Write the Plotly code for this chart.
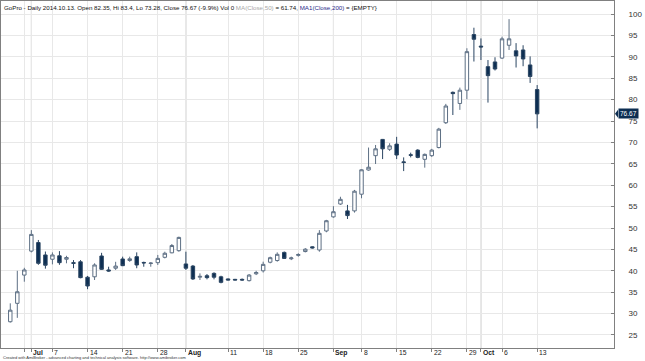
import plotly.graph_objects as go

# ---------------- data ----------------
dates = ["06-26", "06-27", "06-30",
         "07-01", "07-02", "07-03", "07-07", "07-08", "07-09", "07-10", "07-11",
         "07-14", "07-15", "07-16", "07-17", "07-18", "07-21", "07-22", "07-23",
         "07-24", "07-25", "07-28", "07-29", "07-30", "07-31",
         "08-01", "08-04", "08-05", "08-06", "08-07", "08-08", "08-11", "08-12",
         "08-13", "08-14", "08-15", "08-18", "08-19", "08-20", "08-21", "08-22",
         "08-25", "08-26", "08-27", "08-28", "08-29",
         "09-02", "09-03", "09-04", "09-05", "09-08", "09-09", "09-10", "09-11",
         "09-12", "09-15", "09-16", "09-17", "09-18", "09-19", "09-22", "09-23",
         "09-24", "09-25", "09-26", "09-29", "09-30",
         "10-01", "10-02", "10-03", "10-06", "10-07", "10-08", "10-09", "10-10",
         "10-13"]

open_ = [28.1, 32.4, 39.0,
         44.6, 46.6, 43.7, 42.7, 43.5, 42.7, 41.9, 42.1,
         38.5, 38.6, 43.46, 40.2, 40.6, 42.76, 42.4, 43.3,
         41.95, 41.7, 41.9, 43.15, 44.2, 44.7,
         41.6, 41.1, 38.5, 38.85, 39.4, 38.6, 38.1, 38.0,
         38.0, 37.7, 39.3, 40.0, 42.0, 42.4, 44.3, 42.8,
         43.6, 44.5, 45.6, 44.86, 49.3,
         52.6, 55.6, 54.0, 54.0, 57.9, 63.55, 66.9, 70.7,
         68.4, 69.6, 65.45, 67.1, 68.2, 66.05, 66.9, 68.8,
         74.6, 81.7, 79.1, 82.2, 95.2,
         92.5, 87.7, 88.8, 89.7, 92.7, 91.4, 91.6, 88.1,
         82.35]

high = [32.4, 40.0, 40.7,
        49.5, 47.2, 44.5, 44.3, 44.6, 43.5, 42.5, 42.5,
        38.8, 41.75, 44.2, 40.95, 42.1, 43.3, 43.3, 44.3,
        42.13, 42.0, 43.7, 44.46, 46.26, 47.97,
        44.46, 41.36, 39.4, 39.25, 39.65, 38.85, 38.2, 38.1,
        38.2, 39.25, 40.0, 42.13, 43.3, 44.3, 44.5, 43.3,
        44.1, 45.3, 45.7, 49.5, 51.9,
        55.1, 57.3, 55.4, 58.9, 63.7, 68.8, 69.4, 70.8,
        69.8, 71.3, 66.5, 67.6, 68.4, 67.4, 68.5, 73.4,
        79.0, 81.9, 82.8, 92.0, 96.8,
        94.3, 89.25, 89.9, 94.7, 98.8, 93.2, 92.7, 90.1,
        83.4]

low = [27.9, 29.0, 37.45,
       44.3, 41.4, 40.5, 41.5, 41.4, 41.75, 40.6, 38.25,
       35.7, 37.85, 40.2, 39.8, 40.2, 41.1, 42.1, 40.6,
       40.95, 40.95, 41.36, 42.9, 44.1, 44.46,
       40.2, 37.85, 37.85, 38.0, 38.0, 37.07, 37.8, 37.8,
       37.7, 37.5, 39.0, 39.6, 41.75, 42.13, 42.76, 42.5,
       43.3, 44.3, 45.2, 44.46, 49.0,
       52.4, 55.4, 52.1, 53.6, 56.95, 63.4, 64.95, 66.1,
       68.0, 66.1, 63.3, 66.5, 66.3, 64.1, 66.6, 68.6,
       74.3, 76.4, 77.6, 80.1, 88.9,
       89.25, 79.3, 86.8, 89.5, 91.6, 87.5, 87.8, 83.9,
       73.28]

close = [30.8, 35.1, 40.2,
         48.5, 41.75, 41.3, 43.7, 41.9, 43.1, 41.75, 38.4,
         36.45, 41.36, 40.35, 39.95, 41.1, 41.2, 42.8, 41.36,
         41.85, 41.8, 42.9, 44.1, 45.9, 47.8,
         40.6, 38.1, 38.7, 38.4, 38.5, 37.3, 37.85, 37.85,
         37.85, 39.0, 39.6, 41.5, 43.06, 43.85, 42.9, 43.0,
         43.8, 45.05, 45.35, 48.76, 51.7,
         53.8, 56.7, 52.9, 58.6, 63.6, 64.2, 68.5, 68.5,
         69.2, 67.05, 65.3, 67.0, 66.5, 67.2, 68.2, 73.1,
         78.5, 81.4, 82.2, 91.2, 94.1,
         92.3, 85.6, 87.15, 94.2, 94.2, 90.2, 89.5, 85.4,
         76.67]

# x-axis ticks
tick_dates = ["06-30", "07-01", "07-07", "07-14", "07-21", "07-28",
              "08-01", "08-11", "08-18", "08-25",
              "09-02", "09-08", "09-15", "09-22", "09-29",
              "10-01", "10-06", "10-13"]
tick_labels = ["", "Jul", "7", "14", "21", "28",
               "Aug", "11", "18", "25",
               "Sep", "8", "15", "22", "29",
               "Oct", "6", "13"]
month_ticks = ["Jul", "Aug", "Sep", "Oct"]

y_ticks = list(range(25, 101, 5))

title_text = ("GoPro - Daily 2014.10.13. Open 82.35, Hi 83.4, Lo 73.28, Close 76.67 (-9.9%) Vol 0 "
              "<span style='color:#a8a8a8'>MA(Close,50)</span> = 61.74, "
              "<span style='color:#2a2a8a'>MA1(Close,200)</span> = {EMPTY}")
credit_text = ("Created with AmiBroker - advanced charting and technical analysis software. "
               "http://www.amibroker.com")
last_label = "76.67"

# ---------------- figure ----------------
xi = list(range(len(dates)))
pos = {d: i for i, d in enumerate(dates)}
tick_x = [pos[d] for d in tick_dates]

FONT = "Liberation Sans, Arial, sans-serif"
NAVY = "#0d2e52"

fig = go.Figure(go.Candlestick(
    x=xi, open=open_, high=high, low=low, close=close,
    increasing=dict(line=dict(color="#5d6f84", width=1), fillcolor="white"),
    decreasing=dict(line=dict(color="#2a4562", width=1), fillcolor=NAVY),
    whiskerwidth=0, showlegend=False, hoverinfo="skip",
))

shapes = []
for x, lab in zip(tick_x, tick_labels):
    if lab in month_ticks:
        shapes.append(dict(type="line", xref="x", yref="paper", x0=x, x1=x, y0=0, y1=1,
                           line=dict(color="#c4c4c4", width=1), layer="below"))
# pointer of the last-price label
shapes.append(dict(type="path", xref="paper", yref="y", xsizemode="pixel", ysizemode="pixel",
                   xanchor=1, yanchor=close[-1],
                   path="M 1,0 L 4,4 L 4,-4 Z", fillcolor=NAVY, line=dict(width=0)))

annotations = []
for x, lab in zip(tick_x, tick_labels):
    if not lab:
        continue
    txt = f"<b>{lab}</b>" if lab in month_ticks else lab
    annotations.append(dict(x=x, y=0, xref="x", yref="paper", text=txt, showarrow=False,
                            xanchor="left", yanchor="top", xshift=1, yshift=0, borderpad=0,
                            font=dict(family=FONT, size=6.8, color="#222")))
annotations.append(dict(x=0, y=1, xref="paper", yref="paper", text=title_text, showarrow=False,
                        xanchor="left", yanchor="top", xshift=1, yshift=-1,
                        font=dict(family=FONT, size=6.2, color="#111")))
annotations.append(dict(x=0, y=0, xref="paper", yref="paper", text=credit_text, showarrow=False,
                        xanchor="left", yanchor="bottom", xshift=1, yshift=-13, borderpad=0,
                        font=dict(family=FONT, size=4, color="#333")))
annotations.append(dict(x=1, y=close[-1], xref="paper", yref="y", text=last_label, showarrow=False,
                        xanchor="left", yanchor="middle", xshift=4,
                        bgcolor=NAVY, borderpad=1,
                        font=dict(family=FONT, size=6.5, color="white")))

fig.update_layout(
    width=645, height=361,
    margin=dict(l=1, r=31, t=1, b=13),
    paper_bgcolor="white", plot_bgcolor="white",
    font=dict(family=FONT, size=8, color="#333"),
    shapes=shapes, annotations=annotations,
    boxgap=0.3,
    xaxis=dict(range=[-1.32, 85.94], tickvals=tick_x, showticklabels=False,
               ticks="outside", ticklen=3, tickcolor="#808080",
               showgrid=True, gridcolor="#e8e8e8", gridwidth=1,
               showline=True, linecolor="#808080", linewidth=1, mirror=True,
               zeroline=False, rangeslider=dict(visible=False), fixedrange=True),
    yaxis=dict(range=[21.96, 103.04], side="right", tickvals=y_ticks,
               ticks="inside", ticklen=3, tickcolor="#808080",
               ticklabelstandoff=12,
               tickfont=dict(family=FONT, size=8, color="#333"),
               showgrid=True, gridcolor="#e8e8e8", gridwidth=1,
               showline=True, linecolor="#808080", linewidth=1, mirror=True,
               zeroline=False, fixedrange=True),
)

fig.write_html("out.html", config={"displayModeBar": False},
               post_script="document.body.style.margin='0';document.body.style.overflow='hidden';")
